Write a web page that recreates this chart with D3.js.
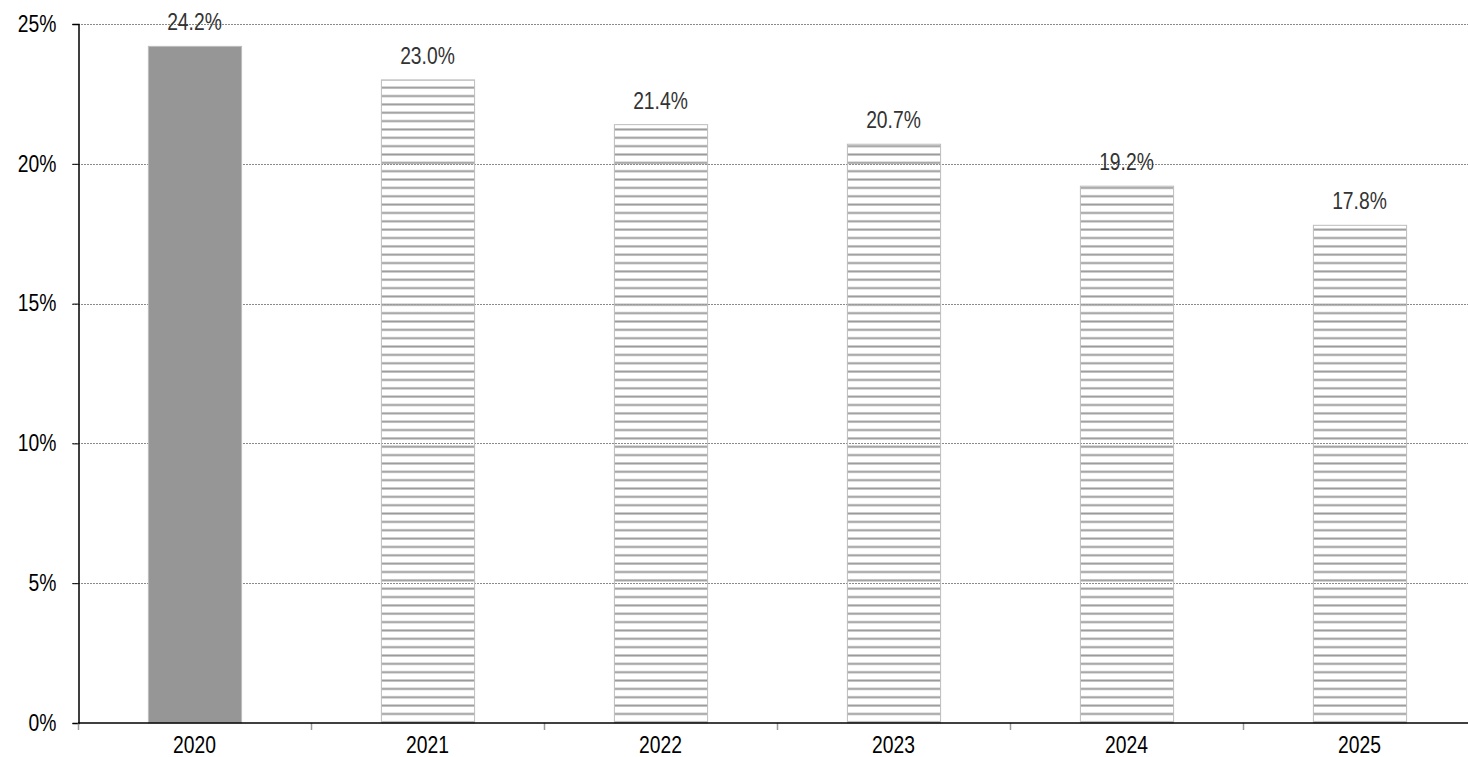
<!DOCTYPE html>
<html>
<head>
<meta charset="utf-8">
<script src="https://cdn.jsdelivr.net/npm/d3@7"></script>
<style>
  html, body { margin: 0; padding: 0; background: #fff; }
  svg { display: block; font-family: "Liberation Sans", Arial, sans-serif; }
</style>
</head>
<body>
<div id="chart"></div>
<script>
const years = ['2020', '2021', '2022', '2023', '2024', '2025'];
const shares = [24.2, 23.0, 21.4, 20.7, 19.2, 17.8];
const actual = [true, false, false, false, false, false];
const yTicks = [0, 5, 10, 15, 20, 25];

const width = 1468;
const height = 757;
const margin = { top: 24, right: -8, bottom: 34, left: 78 };
const fontSize = 23;
const squeeze = 0.84; // narrow face look

const svg = d3.select('#chart')
  .append('svg')
  .attr('width', width)
  .attr('height', height);

// horizontal hatch for the forecast bars
svg.append('defs')
  .append('pattern')
  .attr('id', 'hatch')
  .attr('patternUnits', 'userSpaceOnUse')
  .attr('width', 10)
  .attr('height', 8.35)
  .append('rect')
  .attr('x', 0)
  .attr('y', 3.2)
  .attr('width', 10)
  .attr('height', 2)
  .attr('fill', '#9a9a9a');

const x = d3.scaleBand()
  .domain(years)
  .range([margin.left, width - margin.right])
  .paddingInner(0.6)
  .paddingOuter(0.3);

const y = d3.scaleLinear()
  .domain([0, 25])
  .range([height - margin.bottom, margin.top]);

const narrowText = (sel, px, py) => sel
  .attr('transform', (d, i) => `translate(${px(d, i)},${py(d, i)}) scale(${squeeze},1)`)
  .attr('font-size', fontSize + 'px');

// gridlines
svg.append('g')
  .selectAll('line')
  .data(yTicks.filter(d => d > 0))
  .join('line')
  .attr('x1', margin.left - 6)
  .attr('x2', width)
  .attr('y1', d => Math.round(y(d)) + 0.5)
  .attr('y2', d => Math.round(y(d)) + 0.5)
  .attr('stroke', '#8a8a8a')
  .attr('stroke-width', 1)
  .attr('stroke-dasharray', '2,1');

// bars
svg.append('g')
  .selectAll('rect')
  .data(years)
  .join('rect')
  .attr('x', d => x(d) + 0.5)
  .attr('y', (d, i) => y(shares[i]))
  .attr('width', x.bandwidth())
  .attr('height', (d, i) => y(0) - y(shares[i]))
  .attr('fill', (d, i) => actual[i] ? '#969696' : 'url(#hatch)')
  .attr('stroke', '#bdbdbd')
  .attr('stroke-width', 1);

// value labels
svg.append('g')
  .selectAll('text')
  .data(years)
  .join('text')
  .call(narrowText, d => x(d) + x.bandwidth() / 2, (d, i) => y(shares[i]) - 16)
  .attr('text-anchor', 'middle')
  .attr('fill', '#333')
  .text((d, i) => shares[i].toFixed(1) + '%');

// y axis
const yAxis = svg.append('g')
  .attr('transform', `translate(${margin.left + 0.5},0)`)
  .call(d3.axisLeft(y).tickValues(yTicks).tickFormat(d => d + '%').tickSize(6).tickPadding(16));
yAxis.select('.domain').attr('stroke', '#000').attr('stroke-width', 1.5);
yAxis.selectAll('.tick line').attr('stroke', '#000');
yAxis.selectAll('.tick text')
  .attr('x', null)
  .call(narrowText, () => -22, () => 0)
  .attr('font-family', null)
  .attr('fill', '#000');

// x axis
const xAxisY = y(0);
const step = x.step();
const boundaries = d3.range(years.length + 1).map(i => x(years[0]) - x.paddingOuter() * step + i * step);
svg.append('g')
  .selectAll('line')
  .data(boundaries)
  .join('line')
  .attr('x1', d => Math.round(d) + 0.5)
  .attr('x2', d => Math.round(d) + 0.5)
  .attr('y1', xAxisY)
  .attr('y2', xAxisY + 7)
  .attr('stroke', '#9a9a9a')
  .attr('stroke-width', 1.5);

svg.append('line')
  .attr('x1', margin.left)
  .attr('x2', width)
  .attr('y1', xAxisY)
  .attr('y2', xAxisY)
  .attr('stroke', '#000')
  .attr('stroke-width', 1.5);

svg.append('g')
  .selectAll('text')
  .data(years)
  .join('text')
  .call(narrowText, d => x(d) + x.bandwidth() / 2, () => xAxisY + 30)
  .attr('text-anchor', 'middle')
  .attr('fill', '#000')
  .text(d => d);
</script>
</body>
</html>
